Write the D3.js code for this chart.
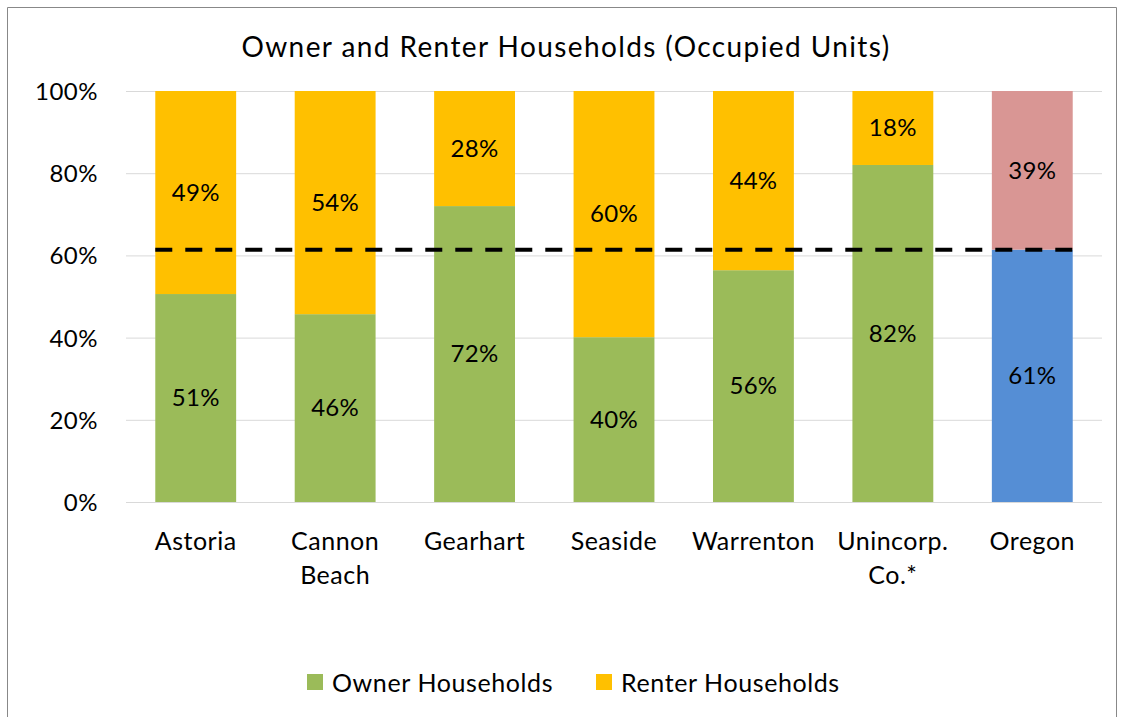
<!DOCTYPE html>
<html><head><meta charset="utf-8">
<script src="https://cdn.jsdelivr.net/npm/d3@7"></script>
<style>body{margin:0;background:#fff}svg{display:block}text{font-family:Lato,"Open Sans",sans-serif;fill:#000}</style>
</head><body>
<svg id="c" width="1121" height="717"></svg>
<script>
const categories = [["Astoria"],["Cannon","Beach"],["Gearhart"],["Seaside"],["Warrenton"],["Unincorp.","Co.*"],["Oregon"]];
const ownerShare = [50.6, 45.7, 72.0, 40.1, 56.4, 82.0, 61.4];
const renterShare = [49.4, 54.3, 28.0, 59.9, 43.6, 18.0, 38.6];
const yTicks = [0, 20, 40, 60, 80, 100];
const referenceLine = 61.4;
const seriesNames = ["Owner Households", "Renter Households"];
const title = "Owner and Renter Households (Occupied Units)";

const svg = d3.select("#c");
const colOwner = "#9BBB59", colRenter = "#FFC000", colOwnerOR = "#558ED5", colRenterOR = "#D99694";

// frame
svg.append("path").attr("d","M7.5,717 V7.5 H1116.5 V717").attr("fill","none").attr("stroke","#888").attr("stroke-width",1);

const x = d3.scaleBand().domain(d3.range(categories.length)).range([126,1102]).paddingInner(0.42).paddingOuter(0.21);
const y = d3.scaleLinear().domain([0,100]).range([502,91]);

// gridlines
svg.append("g").selectAll("line").data(yTicks).join("line")
  .attr("x1",126).attr("x2",1102).attr("y1",d=>y(d)+0.5).attr("y2",d=>y(d)+0.5)
  .attr("stroke","#d9d9d9").attr("stroke-width",1);

// y axis labels
const yAxis = d3.axisLeft(y).tickValues(yTicks).tickFormat(d=>d+"%").tickSize(0).tickPadding(0);
const ya = svg.append("g").attr("transform","translate(98,0)").call(yAxis);
ya.select(".domain").remove();
ya.selectAll("text").style("font-size","24px").style("letter-spacing","0.5px").style("font-family","Lato,'Open Sans',sans-serif").attr("fill","#000").attr("dy","0.35em");

const last = categories.length-1;
// bars
const g = svg.append("g");
g.selectAll("rect.own").data(ownerShare).join("rect").attr("class","own")
  .attr("x",(d,i)=>x(i)).attr("width",x.bandwidth())
  .attr("y",d=>y(d)).attr("height",d=>y(0)-y(d))
  .attr("fill",(d,i)=>i===last?colOwnerOR:colOwner);
g.selectAll("rect.ren").data(renterShare).join("rect").attr("class","ren")
  .attr("x",(d,i)=>x(i)).attr("width",x.bandwidth())
  .attr("y",(d,i)=>y(ownerShare[i]+d)).attr("height",(d,i)=>y(ownerShare[i])-y(ownerShare[i]+d))
  .attr("fill",(d,i)=>i===last?colRenterOR:colRenter);

// labels
const fmt = d=>Math.round(d)+"%";
g.selectAll("text.lo").data(ownerShare).join("text").attr("class","lo")
  .attr("x",(d,i)=>x(i)+x.bandwidth()/2).attr("y",d=>y(d/2)).attr("dy","0.35em")
  .attr("text-anchor","middle").style("font-size","24px").style("letter-spacing","0.3px").text(fmt);
g.selectAll("text.lr").data(renterShare).join("text").attr("class","lr")
  .attr("x",(d,i)=>x(i)+x.bandwidth()/2).attr("y",(d,i)=>y(ownerShare[i]+d/2)).attr("dy","0.35em")
  .attr("text-anchor","middle").style("font-size","24px").style("letter-spacing","0.3px").text(fmt);

// dashed reference line
svg.append("line").attr("x1",x(0)).attr("x2",x(last)+x.bandwidth()+4)
  .attr("y1",y(referenceLine)).attr("y2",y(referenceLine))
  .attr("stroke","#000").attr("stroke-width",4).attr("stroke-dasharray","17,13");

// x labels
const xl = svg.append("g").selectAll("text").data(categories).join("text")
  .attr("x",(d,i)=>x(i)+x.bandwidth()/2).attr("y",550).attr("text-anchor","middle")
  .style("font-size","25px").style("letter-spacing","0.5px");
xl.selectAll("tspan").data(d=>d).join("tspan")
  .attr("x",function(){return this.parentNode.getAttribute("x");})
  .attr("dy",(d,j)=>j===0?0:34).text(d=>d);

// title
svg.append("text").attr("x",566).attr("y",57).attr("text-anchor","middle")
  .style("font-size","28px").style("letter-spacing","1.4px").text(title);

// legend
const leg = [{n:seriesNames[0],c:colOwner,x:307},{n:seriesNames[1],c:colRenter,x:596}];
const lg = svg.append("g").selectAll("g").data(leg).join("g").attr("transform",d=>`translate(${d.x},0)`);
lg.append("rect").attr("x",0).attr("y",674).attr("width",16).attr("height",16).attr("fill",d=>d.c);
lg.append("text").attr("x",25).attr("y",692).style("font-size","25px").style("letter-spacing","0.6px").text(d=>d.n);
</script>
</body></html>
